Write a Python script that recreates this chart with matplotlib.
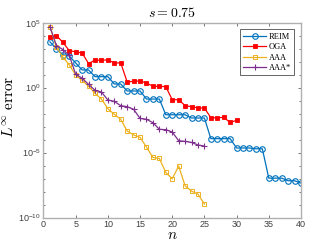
import matplotlib
matplotlib.use("Agg")
import matplotlib.pyplot as plt
import numpy as np

plt.rcParams['mathtext.fontset'] = 'cm'
plt.rcParams['font.family'] = ['Liberation Sans', 'DejaVu Sans']

n_reim = list(range(1, 41))
log_reim = [3.52, 3.00, 2.54, 2.43, 1.90, 1.36, 1.36, 0.84, 0.84, 0.84,
            0.28, 0.28, -0.26, -0.26, -0.26, -0.88, -0.88, -0.88, -2.09, -2.09,
            -2.09, -2.09, -2.34, -2.34, -2.34, -3.93, -3.93, -3.93, -3.93, -4.65,
            -4.65, -4.65, -4.71, -4.71, -6.97, -6.97, -6.97, -7.17, -7.17, -7.35]

n_oga = list(range(1, 31))
log_oga = [3.93, 4.01, 3.49, 2.85, 2.75, 2.67, 1.85, 2.11, 2.11, 2.13,
           1.90, 1.90, 0.43, 0.49, 0.51, 0.36, 0.10, 0.10, 0.07, -0.93,
           -0.93, -1.39, -1.47, -1.57, -1.57, -2.32, -2.32, -2.29, -2.68, -2.52]

n_aaa = list(range(1, 26))
log_aaa = [4.70, 3.13, 2.36, 1.75, 0.97, 0.56, 0.10, -0.44, -0.88, -1.62,
           -2.06, -2.44, -3.34, -3.65, -3.83, -4.58, -5.38, -5.45, -6.53, -7.02,
           -6.04, -7.56, -7.97, -8.20, -8.97]

n_aaas = list(range(1, 26))
log_aaas = [4.70, 3.24, 2.93, 2.49, 1.03, 0.72, 0.25, -0.21, -0.34, -0.95,
            -1.06, -1.39, -1.47, -1.67, -2.37, -2.44, -2.70, -3.21, -3.24, -3.42,
            -4.09, -4.14, -4.22, -4.42, -4.50]

xticks = [0, 5, 10, 15, 20, 25, 30, 35, 40]
yticks = [1e5, 1e0, 1e-5, 1e-10]
ytick_labels = [r'$\mathregular{10^{5}}$', r'$\mathregular{10^{0}}$',
                r'$\mathregular{10^{-5}}$', r'$\mathregular{10^{-10}}$']

fig = plt.figure(figsize=(3.32, 2.49), dpi=100)
ax = fig.add_axes([0.1310, 0.1265, 0.7755, 0.7825])

blue = '#0072BD'
red = '#FF0000'
yellow = '#EDB120'
purple = '#7E2F8E'

ax.plot(n_reim, 10.0 ** np.array(log_reim), '-o', color=blue, lw=0.9,
        ms=4.0, mfc='none', mew=0.8, label='REIM')
ax.plot(n_oga, 10.0 ** np.array(log_oga), '-s', color=red, lw=0.9,
        ms=2.6, mfc=red, mew=0.6, label='OGA')
ax.plot(n_aaa, 10.0 ** np.array(log_aaa), '-s', color=yellow, lw=0.9,
        ms=3.0, mfc='none', mew=0.7, label='AAA')
ax.plot(n_aaas, 10.0 ** np.array(log_aaas), '-+', color=purple, lw=0.9,
        ms=4.0, mew=0.8, label='AAA*')

ax.set_yscale('log')
ax.set_xlim(0, 40)
ax.set_ylim(1e-10, 1e5)
ax.set_xticks(xticks)
ax.set_xticklabels([str(t) for t in xticks])
ax.set_yticks(yticks)
ax.set_yticklabels(ytick_labels)
ax.yaxis.set_minor_locator(matplotlib.ticker.FixedLocator([10.0 ** k for k in range(-10, 6)]))
ax.yaxis.set_minor_formatter(matplotlib.ticker.NullFormatter())

for sp in ax.spines.values():
    sp.set_color('#B0B0B0')
    sp.set_linewidth(1.0)
ax.tick_params(which='both', direction='in', top=True, right=True,
               colors='#404040', labelsize=6.5, length=2.0, width=0.5, pad=2)
ax.tick_params(which='minor', length=1.5)

ax.set_title(r'$s = 0.75$', fontsize=10, pad=4)
ax.set_xlabel(r'$n$', fontsize=11, labelpad=-1)
ax.set_ylabel(r'$L^{\infty}\ \mathrm{error}$', fontsize=11)
ax.yaxis.set_label_coords(-0.105, 0.567)

leg = ax.legend(loc='upper right', prop={'family': 'Liberation Serif', 'size': 6},
                frameon=True, fancybox=False, borderpad=0.4, labelspacing=0.3,
                handlelength=2.8, handletextpad=0.3, borderaxespad=0.8)
leg.get_frame().set_edgecolor('#202020')
leg.get_frame().set_linewidth(0.6)

fig.savefig('out.png', dpi=100)
